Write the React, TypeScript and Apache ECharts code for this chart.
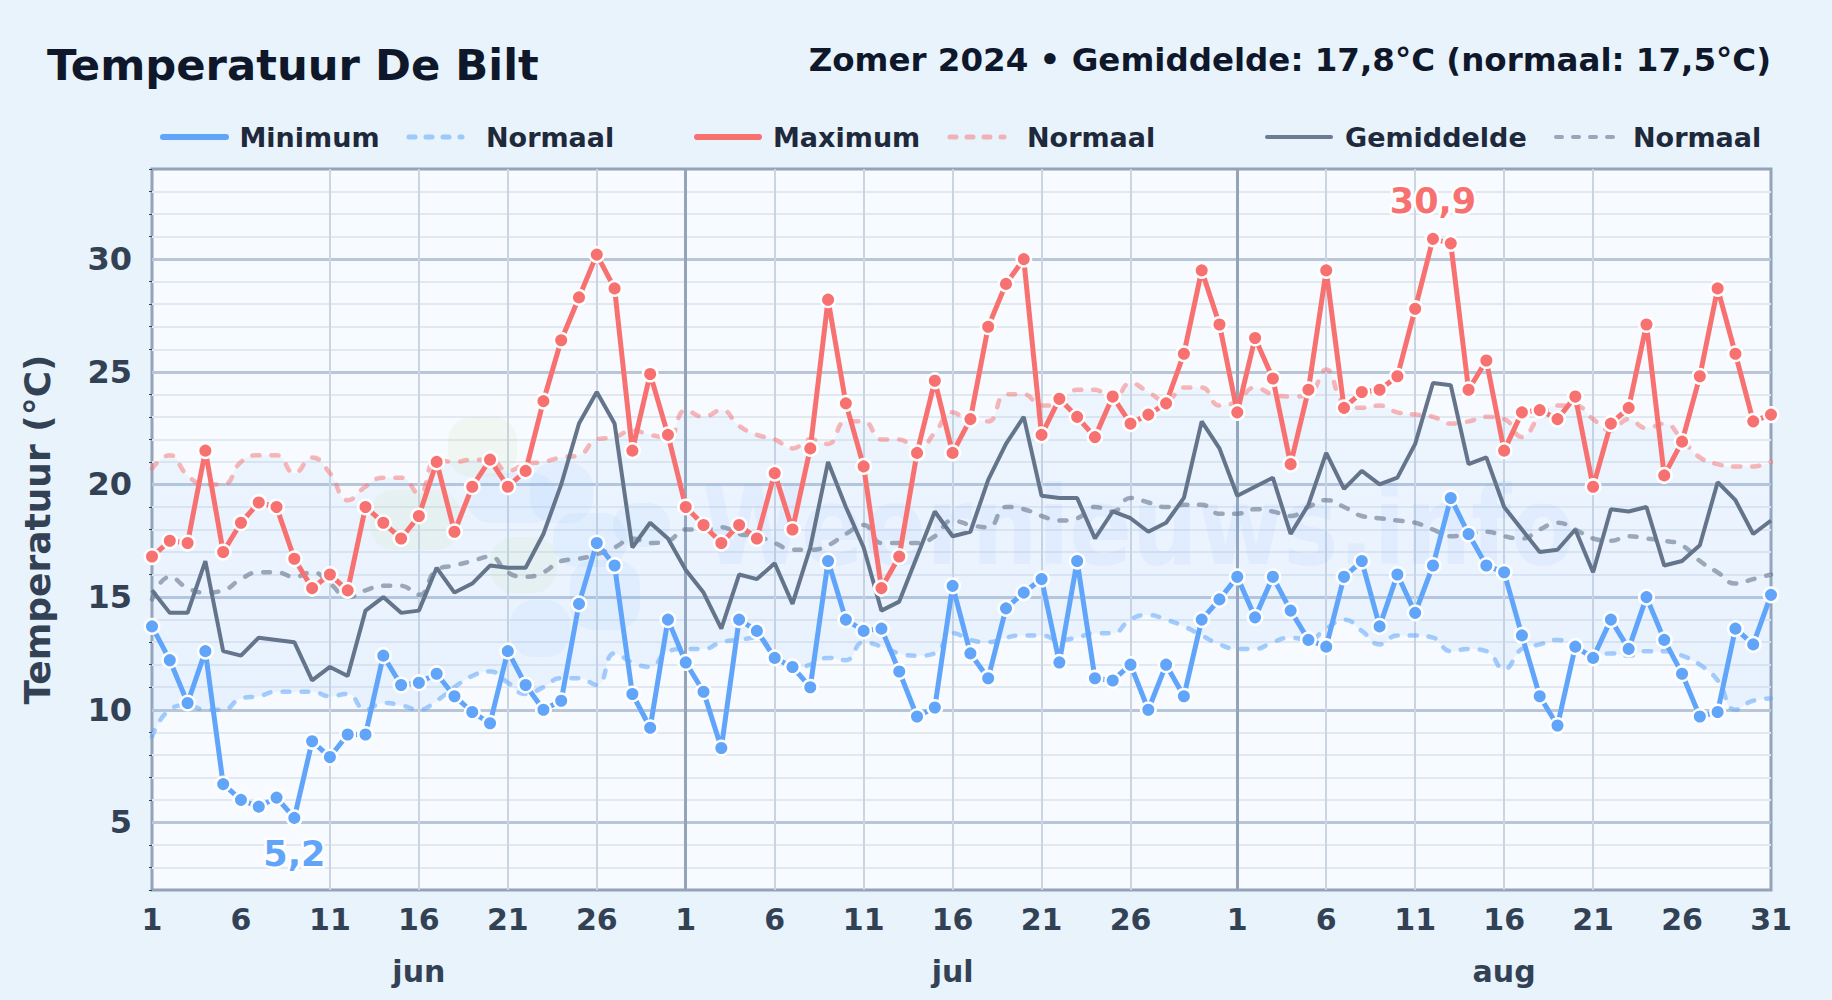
import React, { useEffect, useRef } from "react";
import * as echarts from "echarts";

const FONT = "'DejaVu Sans', sans-serif";

const juneDays = 30;
const julyDays = 31;
const augDays = 31;

const minJun = [13.7, 12.2, 10.3, 12.6, 6.7, 6.0, 5.7, 6.1, 5.2, 8.6, 7.9, 8.9, 8.9, 12.4, 11.1, 11.2, 11.6, 10.6, 9.9, 9.4, 12.6, 11.1, 10.0, 10.4, 14.7, 17.4, 16.4, 10.7, 9.2, 14.0];
const minJul = [12.1, 10.8, 8.3, 14.0, 13.5, 12.3, 11.9, 11.0, 16.6, 14.0, 13.5, 13.6, 11.7, 9.7, 10.1, 15.5, 12.5, 11.4, 14.5, 15.2, 15.8, 12.1, 16.6, 11.4, 11.3, 12.0, 10.0, 12.0, 10.6, 14.0, 14.9];
const minAug = [15.9, 14.1, 15.9, 14.4, 13.1, 12.8, 15.9, 16.6, 13.7, 16.0, 14.3, 16.4, 19.4, 17.8, 16.4, 16.1, 13.3, 10.6, 9.3, 12.8, 12.3, 14.0, 12.7, 15.0, 13.1, 11.6, 9.7, 9.9, 13.6, 12.9, 15.1];

const maxJun = [16.8, 17.5, 17.4, 21.5, 17.0, 18.3, 19.2, 19.0, 16.7, 15.4, 16.0, 15.3, 19.0, 18.3, 17.6, 18.6, 21.0, 17.9, 19.9, 21.1, 19.9, 20.6, 23.7, 26.4, 28.3, 30.2, 28.7, 21.5, 24.9, 22.2];
const maxJul = [19.0, 18.2, 17.4, 18.2, 17.6, 20.5, 18.0, 21.6, 28.2, 23.6, 20.8, 15.4, 16.8, 21.4, 24.6, 21.4, 22.9, 27.0, 28.9, 30.0, 22.2, 23.8, 23.0, 22.1, 23.9, 22.7, 23.1, 23.6, 25.8, 29.5, 27.1];
const maxAug = [23.2, 26.5, 24.7, 20.9, 24.2, 29.5, 23.4, 24.1, 24.2, 24.8, 27.8, 30.9, 30.7, 24.2, 25.5, 21.5, 23.2, 23.3, 22.9, 23.9, 19.9, 22.7, 23.4, 27.1, 20.4, 21.9, 24.8, 28.7, 25.8, 22.8, 23.1];

const avgJun = [15.3, 14.3, 14.3, 16.6, 12.6, 12.4, 13.2, 13.1, 13.0, 11.3, 11.9, 11.5, 14.4, 15.0, 14.3, 14.4, 16.3, 15.2, 15.6, 16.4, 16.3, 16.3, 17.8, 20.0, 22.7, 24.1, 22.7, 17.2, 18.3, 17.6];
const avgJul = [16.2, 15.2, 13.6, 16.0, 15.8, 16.5, 14.7, 17.2, 21.0, 19.0, 17.2, 14.4, 14.8, 16.8, 18.8, 17.7, 17.9, 20.2, 21.8, 23.0, 19.5, 19.4, 19.4, 17.6, 18.8, 18.5, 17.9, 18.3, 19.4, 22.8, 21.6];
const avgAug = [19.5, 19.9, 20.3, 17.8, 19.1, 21.4, 19.8, 20.6, 20.0, 20.3, 21.8, 24.5, 24.4, 20.9, 21.2, 19.0, 18.0, 17.0, 17.1, 18.0, 16.1, 18.9, 18.8, 19.0, 16.4, 16.6, 17.3, 20.1, 19.3, 17.8, 18.4];

const normMaxJun = [20.7, 21.3, 20.4, 20.0, 20.0, 21.0, 21.3, 21.3, 20.5, 21.2, 20.5, 19.3, 19.9, 20.3, 20.3, 19.6, 21.1, 21.0, 21.1, 21.1, 20.6, 20.9, 21.0, 21.2, 21.3, 22.0, 22.1, 22.4, 22.2, 22.1];
const normMaxJul = [23.3, 23.0, 23.3, 22.6, 22.2, 22.0, 21.6, 22.0, 21.8, 22.8, 22.8, 22.0, 22.0, 21.5, 22.3, 23.2, 22.8, 22.8, 24.0, 24.0, 23.5, 23.6, 24.2, 24.2, 23.7, 24.5, 24.1, 23.7, 24.3, 24.3, 23.5];
const normMaxAug = [23.7, 24.3, 24.0, 23.9, 24.0, 25.1, 23.6, 23.4, 23.5, 23.2, 23.1, 23.0, 22.7, 22.8, 23.0, 22.9, 22.1, 23.0, 23.5, 23.5, 22.9, 22.4, 22.9, 22.5, 22.7, 22.0, 21.2, 20.9, 20.8, 20.8, 21.0];

const normMinJun = [8.8, 10.0, 10.2, 10.0, 10.0, 10.5, 10.6, 10.8, 10.8, 10.8, 10.6, 10.7, 10.0, 10.3, 10.2, 10.0, 10.4, 11.0, 11.5, 11.7, 11.2, 10.7, 11.0, 11.4, 11.4, 11.1, 12.5, 12.1, 11.9, 12.6];
const normMinJul = [12.7, 12.7, 13.0, 13.1, 13.2, 12.4, 11.8, 12.0, 12.3, 12.2, 13.0, 12.8, 12.5, 12.4, 12.5, 13.4, 13.1, 13.0, 13.2, 13.3, 13.3, 13.1, 13.2, 13.4, 13.4, 14.0, 14.2, 14.0, 13.7, 13.3, 12.9];
const normMinAug = [12.7, 12.7, 13.0, 13.2, 13.1, 13.6, 14.0, 13.5, 12.9, 13.3, 13.3, 13.2, 12.6, 12.7, 12.6, 11.8, 12.7, 12.9, 13.1, 12.8, 12.4, 12.5, 12.4, 12.6, 12.6, 12.4, 12.0, 11.3, 10.0, 10.4, 10.5];

const normAvgJun = [14.9, 15.9, 15.4, 15.2, 15.3, 15.8, 16.1, 16.1, 15.9, 16.1, 15.6, 15.0, 15.3, 15.5, 15.5, 15.1, 16.2, 16.4, 16.6, 16.8, 16.1, 15.9, 16.1, 16.6, 16.7, 16.9, 17.2, 17.6, 17.4, 17.5];
const normAvgJul = [18.0, 18.0, 18.1, 17.8, 17.7, 17.4, 17.1, 17.1, 17.3, 17.8, 18.2, 17.4, 17.4, 17.4, 17.7, 18.4, 18.2, 18.1, 19.0, 18.9, 18.6, 18.4, 18.5, 19.0, 18.8, 19.4, 19.2, 19.0, 19.1, 19.1, 18.7];
const normAvgAug = [18.7, 18.9, 18.8, 18.6, 19.0, 19.3, 19.0, 18.6, 18.5, 18.4, 18.3, 18.0, 17.7, 17.8, 17.9, 17.7, 17.6, 18.0, 18.3, 18.0, 17.6, 17.5, 17.7, 17.6, 17.5, 17.3, 16.6, 16.1, 15.6, 15.8, 16.0];

const monthNames = ["jun", "jul", "aug"];
const title = "Temperatuur De Bilt";
const subtitle = "Zomer 2024 • Gemiddelde: 17,8°C (normaal: 17,5°C)";
const yTitle = "Temperatuur (°C)";
const watermark = "Weernieuws.info";
const majorY = [5, 10, 15, 20, 25, 30];
const minorY = [2, 3, 4, 6, 7, 8, 9, 11, 12, 13, 14, 16, 17, 18, 19, 21, 22, 23, 24, 26, 27, 28, 29, 31, 32, 33, 34];

const BLUE = "#60a5fa";
const RED = "#f87171";
const SLATE = "#64748b";

const days = (n: number) => Array.from({ length: n }, (_, i) => String(i + 1));
const categories = [...days(juneDays), ...days(julyDays), ...days(augDays)];
const monthStarts = [juneDays, juneDays + julyDays];
const monthCentres = [15, juneDays + 15, juneDays + julyDays + 15];
const monthCats = categories.map((_, i) => {
  const k = monthCentres.indexOf(i);
  return k >= 0 ? monthNames[k] : "";
});

const minData = [...minJun, ...minJul, ...minAug];
const maxData = [...maxJun, ...maxJul, ...maxAug];
const avgData = [...avgJun, ...avgJul, ...avgAug];
const normMax = [...normMaxJun, ...normMaxJul, ...normMaxAug];
const normMin = [...normMinJun, ...normMinJul, ...normMinAug];
const normAvg = [...normAvgJun, ...normAvgJul, ...normAvgAug];
const bandHeight = normMax.map((v, i) => +(v - normMin[i]).toFixed(2));

const isLabelled = (i: number) => {
  const d = Number(categories[i]);
  return ((d - 1) % 5 === 0 && d !== 31) || i === categories.length - 1;
};

const comma = (v: number) => v.toFixed(1).replace(".", ",");

function extreme(values: number[], target: number, color: string, position: string, distance: number) {
  return values.map((v) =>
    v === target
      ? {
          value: v,
          label: {
            show: true,
            position,
            distance,
            formatter: comma(v),
            color,
            fontFamily: FONT,
            fontWeight: "bold",
            fontSize: 35,
            textBorderColor: "#ffffff",
            textBorderWidth: 5,
          },
        }
      : v,
  );
}

function solid(name: string, data: any[], color: string) {
  return {
    name,
    type: "line",
    data,
    z: 6,
    symbol: "circle",
    symbolSize: 14.5,
    showSymbol: true,
    showAllSymbol: true,
    clip: false,
    lineStyle: { color, width: 5 },
    itemStyle: { color, borderColor: "#ffffff", borderWidth: 2.5 },
    emphasis: { disabled: true },
  };
}

function dashed(name: string, data: number[], color: string, opacity: number) {
  return {
    name,
    type: "line",
    data,
    z: 3,
    smooth: 0.5,
    symbol: "none",
    lineStyle: { color, width: 4.5, opacity, type: [7, 12], cap: "round" },
    emphasis: { disabled: true },
  };
}

function legendGraphics() {
  const rows = [
    { x0: 163, x1: 226, tx: 239.5, label: "Minimum", color: BLUE, w: 6, dash: null, op: 1 },
    { x0: 409, x1: 462, tx: 486, label: "Normaal", color: BLUE, w: 5, dash: [6, 11], op: 0.55 },
    { x0: 697, x1: 759, tx: 773, label: "Maximum", color: RED, w: 6, dash: null, op: 1 },
    { x0: 950, x1: 1004, tx: 1027, label: "Normaal", color: RED, w: 5, dash: [6, 11], op: 0.5 },
    { x0: 1267, x1: 1331, tx: 1345, label: "Gemiddelde", color: SLATE, w: 4, dash: null, op: 0.95 },
    { x0: 1556, x1: 1616, tx: 1633, label: "Normaal", color: SLATE, w: 4, dash: [6, 11], op: 0.6 },
  ];
  const out: any[] = [];
  rows.forEach((r) => {
    out.push({
      type: "line",
      shape: { x1: r.x0, y1: 137, x2: r.x1, y2: 137 },
      style: { stroke: r.color, lineWidth: r.w, lineCap: "round", opacity: r.op, lineDash: r.dash || undefined },
    });
    out.push({
      type: "text",
      x: r.tx,
      y: 137,
      style: {
        text: r.label,
        fill: "#1e293b",
        font: `bold 27px ${FONT}`,
        textVerticalAlign: "middle",
      },
    });
  });
  return out;
}

function blob(x: number, y: number, width: number, height: number, fill: string) {
  return {
    type: "rect",
    z: 1,
    shape: { x, y, width, height, r: 24 },
    style: { fill },
    silent: true,
  };
}

function watermarkGraphics() {
  const green = "rgba(190,220,150,0.11)";
  const blue = "rgba(96,165,250,0.07)";
  return [
    blob(448, 417, 69, 60, green),
    blob(370, 490, 90, 60, green),
    blob(490, 537, 67, 56, green),
    blob(467, 473, 90, 50, blue),
    blob(530, 463, 63, 60, blue),
    blob(553, 513, 74, 54, blue),
    blob(570, 560, 70, 70, blue),
    blob(510, 600, 60, 57, blue),
    blob(613, 503, 57, 44, blue),
    {
      type: "text",
      z: 1,
      x: 702,
      y: 527,
      scaleY: 1.17,
      silent: true,
      style: {
        text: watermark,
        fill: "rgba(59,130,246,0.055)",
        font: `bold 92.5px ${FONT}`,
        textVerticalAlign: "middle",
      },
    },
  ];
}

export default function App() {
  const ref = useRef<HTMLDivElement>(null);

  useEffect(() => {
    document.body.style.margin = "0";
    const chart = echarts.init(ref.current!, undefined, { renderer: "svg" });
    chart.setOption({
      animation: false,
      backgroundColor: "#e8f3fc",
      grid: {
        left: 152,
        top: 169,
        width: 1619,
        height: 721,
        show: true,
        backgroundColor: "#f7fafe",
        borderColor: "#94a3b8",
        borderWidth: 3,
        containLabel: false,
      },
      xAxis: [
        {
          type: "category",
          data: categories,
          boundaryGap: false,
          axisLine: { show: false },
          axisTick: { show: false },
          axisLabel: {
            interval: (i: number) => isLabelled(i),
            color: "#334155",
            fontFamily: FONT,
            fontWeight: "bold",
            fontSize: 30,
            margin: 14,
            showMaxLabel: true,
          },
          splitLine: {
            show: true,
            showMinLine: false,
            showMaxLine: false,
            interval: (i: number) => isLabelled(i) && !monthStarts.includes(i) && i !== 0 && i !== categories.length - 1,
            lineStyle: { color: "#cbd5e1", width: 2 },
          },
        },
        {
          type: "category",
          data: monthCats,
          boundaryGap: false,
          position: "bottom",
          offset: 52,
          axisLine: { show: false },
          axisTick: { show: false, customValues: monthStarts },
          axisLabel: {
            interval: 0,
            color: "#334155",
            fontFamily: FONT,
            fontWeight: "bold",
            fontSize: 30,
            margin: 14,
            customValues: monthCentres,
          },
          splitLine: { show: true, lineStyle: { color: "#94a3b8", width: 3 } },
        },
      ],
      yAxis: [
        {
          type: "value",
          min: 2,
          max: 34,
          interval: 1,
          position: "left",
          axisLine: { show: false },
          axisLabel: { show: false },
          axisTick: { show: true, length: 3, customValues: minorY, lineStyle: { color: "#334155", width: 1 } },
          splitLine: { show: true, showMinLine: false, showMaxLine: false, lineStyle: { color: "#e2e8f0", width: 2 } },
        },
        {
          type: "value",
          min: 2,
          max: 34,
          interval: 1,
          position: "left",
          name: yTitle,
          nameLocation: "middle",
          nameGap: 97,
          nameTextStyle: { color: "#334155", fontFamily: FONT, fontWeight: "bold", fontSize: 36 },
          axisLine: { show: false },
          axisTick: { show: false, customValues: majorY },
          axisLabel: {
            color: "#334155",
            fontFamily: FONT,
            fontWeight: "bold",
            fontSize: 32,
            margin: 20,
            customValues: majorY,
          },
          splitLine: { show: true, lineStyle: { color: "#b8c6d8", width: 3 } },
        },
      ],
      graphic: {
        elements: [
          ...watermarkGraphics(),
          {
            type: "text",
            x: 47,
            y: 65,
            style: { text: title, fill: "#0f172a", font: `bold 43.3px ${FONT}`, textVerticalAlign: "middle" },
          },
          {
            type: "text",
            x: 1771,
            y: 60,
            style: {
              text: subtitle,
              fill: "#0f172a",
              font: `bold 32.5px ${FONT}`,
              textAlign: "right",
              textVerticalAlign: "middle",
            },
          },
          ...legendGraphics(),
        ],
      },
      series: [
        { name: "monthAxis", type: "line", xAxisIndex: 1, data: [], silent: true },
        {
          name: "bandBase",
          type: "line",
          stack: "band",
          data: normMin,
          z: 0,
          smooth: 0.5,
          symbol: "none",
          lineStyle: { width: 0, opacity: 0 },
          emphasis: { disabled: true },
        },
        {
          name: "bandHeight",
          type: "line",
          stack: "band",
          data: bandHeight,
          z: 0,
          smooth: 0.5,
          symbol: "none",
          lineStyle: { width: 0, opacity: 0 },
          areaStyle: {
            color: new echarts.graphic.LinearGradient(0, 0, 0, 1, [
              { offset: 0, color: "rgba(147,197,253,0.14)" },
              { offset: 1, color: "rgba(147,197,253,0.22)" },
            ]),
          },
          emphasis: { disabled: true },
        },
        dashed("Normaal minimum", normMin, BLUE, 0.55),
        dashed("Normaal maximum", normMax, RED, 0.5),
        dashed("Normaal gemiddelde", normAvg, SLATE, 0.6),
        {
          name: "Gemiddelde",
          type: "line",
          data: avgData,
          z: 4,
          symbol: "none",
          lineStyle: { color: SLATE, width: 4 },
          emphasis: { disabled: true },
        },
        solid("Maximum", extreme(maxData, 30.9, RED, "top", 12), RED),
        solid("Minimum", extreme(minData, 5.2, BLUE, "bottom", 10), BLUE),
      ],
    });
    return () => chart.dispose();
  }, []);

  return <div ref={ref} style={{ position: "fixed", left: 0, top: 0, width: 1832, height: 1000 }} />;
}
